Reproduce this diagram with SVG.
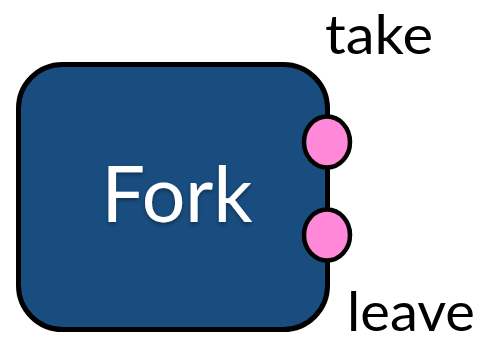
<svg xmlns="http://www.w3.org/2000/svg" width="481" height="343" viewBox="0 0 481 343">
<defs>
<style>
.box{fill:#194d80;stroke:#000;stroke-width:5}
.port{fill:#ff88d8;stroke:#000;stroke-width:4.5}
.lbl{font-family:"Gill Sans","Lato","Liberation Sans",sans-serif;fill:#000}
.title{font-family:"Gill Sans","Lato","Liberation Sans",sans-serif;fill:#fff}
</style>
<filter id="sh" x="-20%" y="-20%" width="140%" height="140%">
<feGaussianBlur in="SourceAlpha" stdDeviation="2"/>
<feOffset dx="0" dy="2" result="b"/>
<feFlood flood-color="#000" flood-opacity="0.4"/>
<feComposite in2="b" operator="in"/>
<feMerge><feMergeNode/><feMergeNode in="SourceGraphic"/></feMerge>
</filter>
</defs>
<g id="fork">
<rect class="box" x="18.5" y="64.5" width="309" height="265" rx="44" ry="44"/>
<text class="title" x="177" y="222" font-size="78" text-anchor="middle" textLength="151" lengthAdjust="spacingAndGlyphs" filter="url(#sh)">Fork</text>
</g>
<g id="port-take">
<ellipse class="port" cx="327" cy="142" rx="23" ry="25.5"/>
<text class="lbl" x="325" y="54" font-size="54" textLength="108" lengthAdjust="spacingAndGlyphs">take</text>
</g>
<g id="port-leave">
<ellipse class="port" cx="327" cy="235" rx="23" ry="25.5"/>
<text class="lbl" x="347" y="331" font-size="54" textLength="128" lengthAdjust="spacingAndGlyphs">leave</text>
</g>
<g id="connectors"></g>
</svg>
